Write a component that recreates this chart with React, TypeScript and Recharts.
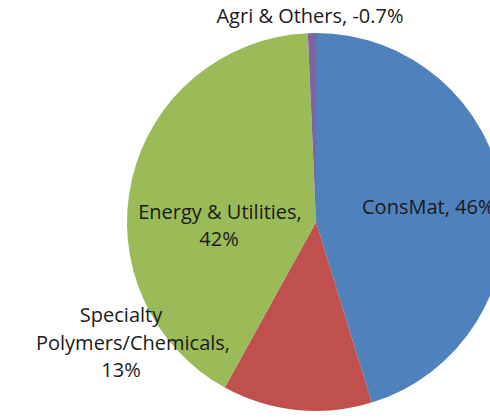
import { PieChart, Pie, Cell } from 'recharts';

const segments = ['ConsMat', 'Specialty Polymers/Chemicals', 'Energy & Utilities', 'Agri & Others'];
const shares = [46, 13, 42, -0.7];
const colors = ['#4F81BD', '#C0504D', '#9BBB59', '#8064A2'];

// label text lines, as Excel wrapped them
const labelLines = [
    ['ConsMat, 46%'],
    ['Specialty', 'Polymers/Chemicals,', '13%'],
    ['Energy & Utilities,', '42%'],
    ['Agri & Others, -0.7%'],
];

// where each label sits, offset from the pie centre
const labelLayout = [
    { anchor: 'start', dx: [46], dy: [-8] },
    { anchor: 'middle', dx: [-195, -183, -195], dy: [100, 128, 155] },
    { anchor: 'middle', dx: [-96, -97], dy: [-3, 24] },
    { anchor: 'middle', dx: [-6], dy: [-199] },
];

const data = segments.map((name, i) => ({
    name,
    value: Math.abs(shares[i]),
}));

const renderLabel = (props: any) => {
    const { cx, cy, index } = props;
    const layout = labelLayout[index];
    return (
        <g>
            {labelLines[index].map((line, j) => (
                <text
                    key={j}
                    x={cx + layout.dx[j]}
                    y={cy + layout.dy[j]}
                    textAnchor={layout.anchor as any}
                    fill="#1a1a1a"
                    fontSize={20}
                    fontFamily="'Open Sans', sans-serif"
                >
                    {line}
                </text>
            ))}
        </g>
    );
};

const App = () => {
    return (
        <div style={{ position: 'absolute', left: 0, top: 0, background: '#fff' }}>
            <PieChart width={490} height={420} style={{ overflow: 'hidden' }}>
                <Pie
                    data={data}
                    dataKey="value"
                    nameKey="name"
                    cx={311}
                    cy={217}
                    outerRadius={189}
                    startAngle={90}
                    endAngle={-270}
                    stroke="none"
                    label={renderLabel}
                    labelLine={false}
                    isAnimationActive={false}
                >
                    {data.map((d, i) => (
                        <Cell key={d.name} fill={colors[i]} />
                    ))}
                </Pie>
            </PieChart>
        </div>
    );
};

export default App;
